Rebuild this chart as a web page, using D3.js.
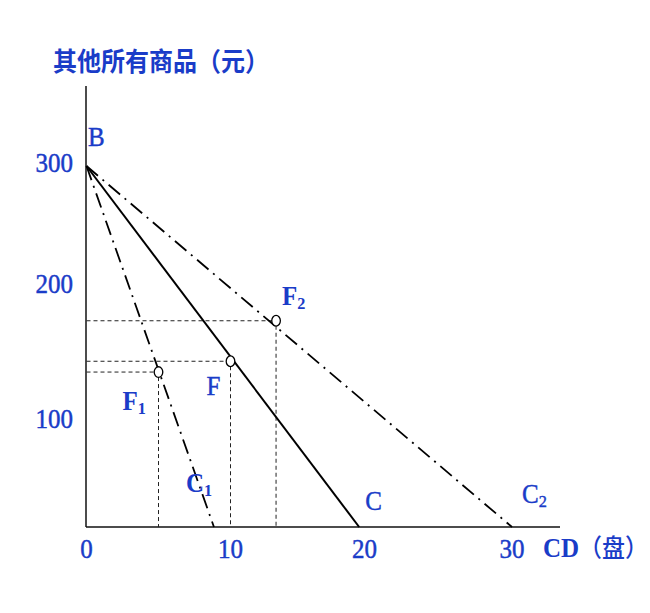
<!DOCTYPE html>
<html><head><meta charset="utf-8">
<script src="https://cdn.jsdelivr.net/npm/d3@7/dist/d3.min.js"></script>
<style>body{margin:0;background:#fff}</style>
</head><body>
<svg id="c" width="650" height="613"></svg>
<script>
// ---- data ----
const xTicks = [0, 10, 20, 30];
const yTicks = [100, 200, 300];
const intercept = 300;                 // B: all income on other goods
const lineNames = ["C1", "C", "C2"];
const lineEnds = [8.85, 19.6, 30];      // CD quantity where each budget line meets the axis
const pointNames = ["F1", "F", "F2"];
const pointCD = [5, 10, 13.4];
const pointOther = [137, 145, 175];
const yTitle = "其他所有商品（元）";
const xTitleLatin = "CD";
const xTitleCJK = "（盘）";

// ---- scales ----
const x = d3.scaleLinear().domain([0, 10, 20, 30]).range([86.5, 230.5, 364.5, 512]);
const y = d3.scaleLinear().domain([0, 100, 200, 300]).range([527, 422, 287, 166]);

const blue = "#1a3cc8";
const svg = d3.select("#c");
const serif = "'Liberation Serif','DejaVu Serif',serif";
const cjk = "'Noto Sans CJK SC','Noto Sans CJK JP',sans-serif";
const sy = 1.08; // slight vertical stretch of glyphs as in the reference

function place(sel, px, py) {
  return sel.attr("transform", `translate(${px},${py}) scale(1,${sy})`);
}

// axes
svg.append("line").attr("x1", 86).attr("x2", 86).attr("y1", 86).attr("y2", y(0))
  .attr("stroke", "#111").attr("stroke-width", 1.5);
svg.append("line").attr("x1", 86).attr("x2", 560).attr("y1", y(0)).attr("y2", y(0))
  .attr("stroke", "#111").attr("stroke-width", 1.5);

// tick labels
svg.selectAll(".yt").data(yTicks).enter().append("text")
  .each(function (d) { place(d3.select(this), 73, y(d) + 6); })
  .attr("text-anchor", "end").attr("font-family", serif).attr("font-size", 25)
  .attr("fill", blue).attr("stroke", blue).attr("stroke-width", 0.45).text(d => d);
svg.selectAll(".xt").data(xTicks).enter().append("text")
  .each(function (d) { place(d3.select(this), x(d), 558); })
  .attr("text-anchor", "middle").attr("font-family", serif).attr("font-size", 25)
  .attr("fill", blue).attr("stroke", blue).attr("stroke-width", 0.45).text(d => d);

// titles
place(svg.append("text"), 53, 71).attr("font-family", cjk).attr("font-size", 24)
  .attr("font-weight", 700).attr("fill", blue).text(yTitle);
const xt = place(svg.append("text"), 543, 557).attr("fill", blue);
xt.append("tspan").attr("font-family", serif).attr("font-weight", "bold").attr("font-size", 25).text(xTitleLatin);
xt.append("tspan").attr("font-family", cjk).attr("font-size", 23).attr("font-weight", 500).text(xTitleCJK);

// guide lines
pointNames.forEach((n, i) => {
  const px = x(pointCD[i]), py = y(pointOther[i]);
  svg.append("line").attr("x1", x(0)).attr("x2", px - 4).attr("y1", py).attr("y2", py)
    .attr("stroke", "#222").attr("stroke-width", 1).attr("stroke-dasharray", "4,3");
  svg.append("line").attr("x1", px).attr("x2", px).attr("y1", py + 5).attr("y2", y(0))
    .attr("stroke", "#222").attr("stroke-width", 1).attr("stroke-dasharray", "4,3");
});

// budget lines
lineNames.forEach((n, i) => {
  svg.append("line").attr("x1", x(0)).attr("y1", y(intercept))
    .attr("x2", x(lineEnds[i])).attr("y2", y(0))
    .attr("stroke", "#000").attr("stroke-width", n === "C" ? 2 : 1.8)
    .attr("stroke-dasharray", n === "C" ? null : "15,6,2,6");
});

// points
pointNames.forEach((n, i) => {
  svg.append("ellipse").attr("cx", x(pointCD[i])).attr("cy", y(pointOther[i]))
    .attr("rx", 4.3).attr("ry", 5.3).attr("fill", "#fff").attr("stroke", "#000").attr("stroke-width", 1.3);
});

// labels
function label(px, py, main, sub, bold, size) {
  const t = place(svg.append("text"), px, py).attr("fill", blue)
    .attr("font-family", serif).attr("font-size", size).attr("font-weight", bold ? "bold" : "normal");
  if (!bold) t.attr("stroke", blue).attr("stroke-width", 0.4);
  t.append("tspan").text(main);
  if (sub) t.append("tspan").attr("font-size", size * 0.65).attr("dy", 4).text(sub);
}
label(88, 146, "B", null, false, 25);
const pOff = [[-36, 38, true], [-24, 34, false], [6, -16, true]];
pointNames.forEach((n, i) => {
  const o = pOff[i];
  label(x(pointCD[i]) + o[0], y(pointOther[i]) + o[1], "F", n.slice(1) || null, o[2], 25);
});
const lOff = [[-28, -35, true], [6, -17, false], [10, -24, false]];
lineNames.forEach((n, i) => {
  const o = lOff[i];
  label(x(lineEnds[i]) + o[0], y(0) + o[1], "C", n.slice(1) || null, o[2], 25);
});
</script>
</body></html>
